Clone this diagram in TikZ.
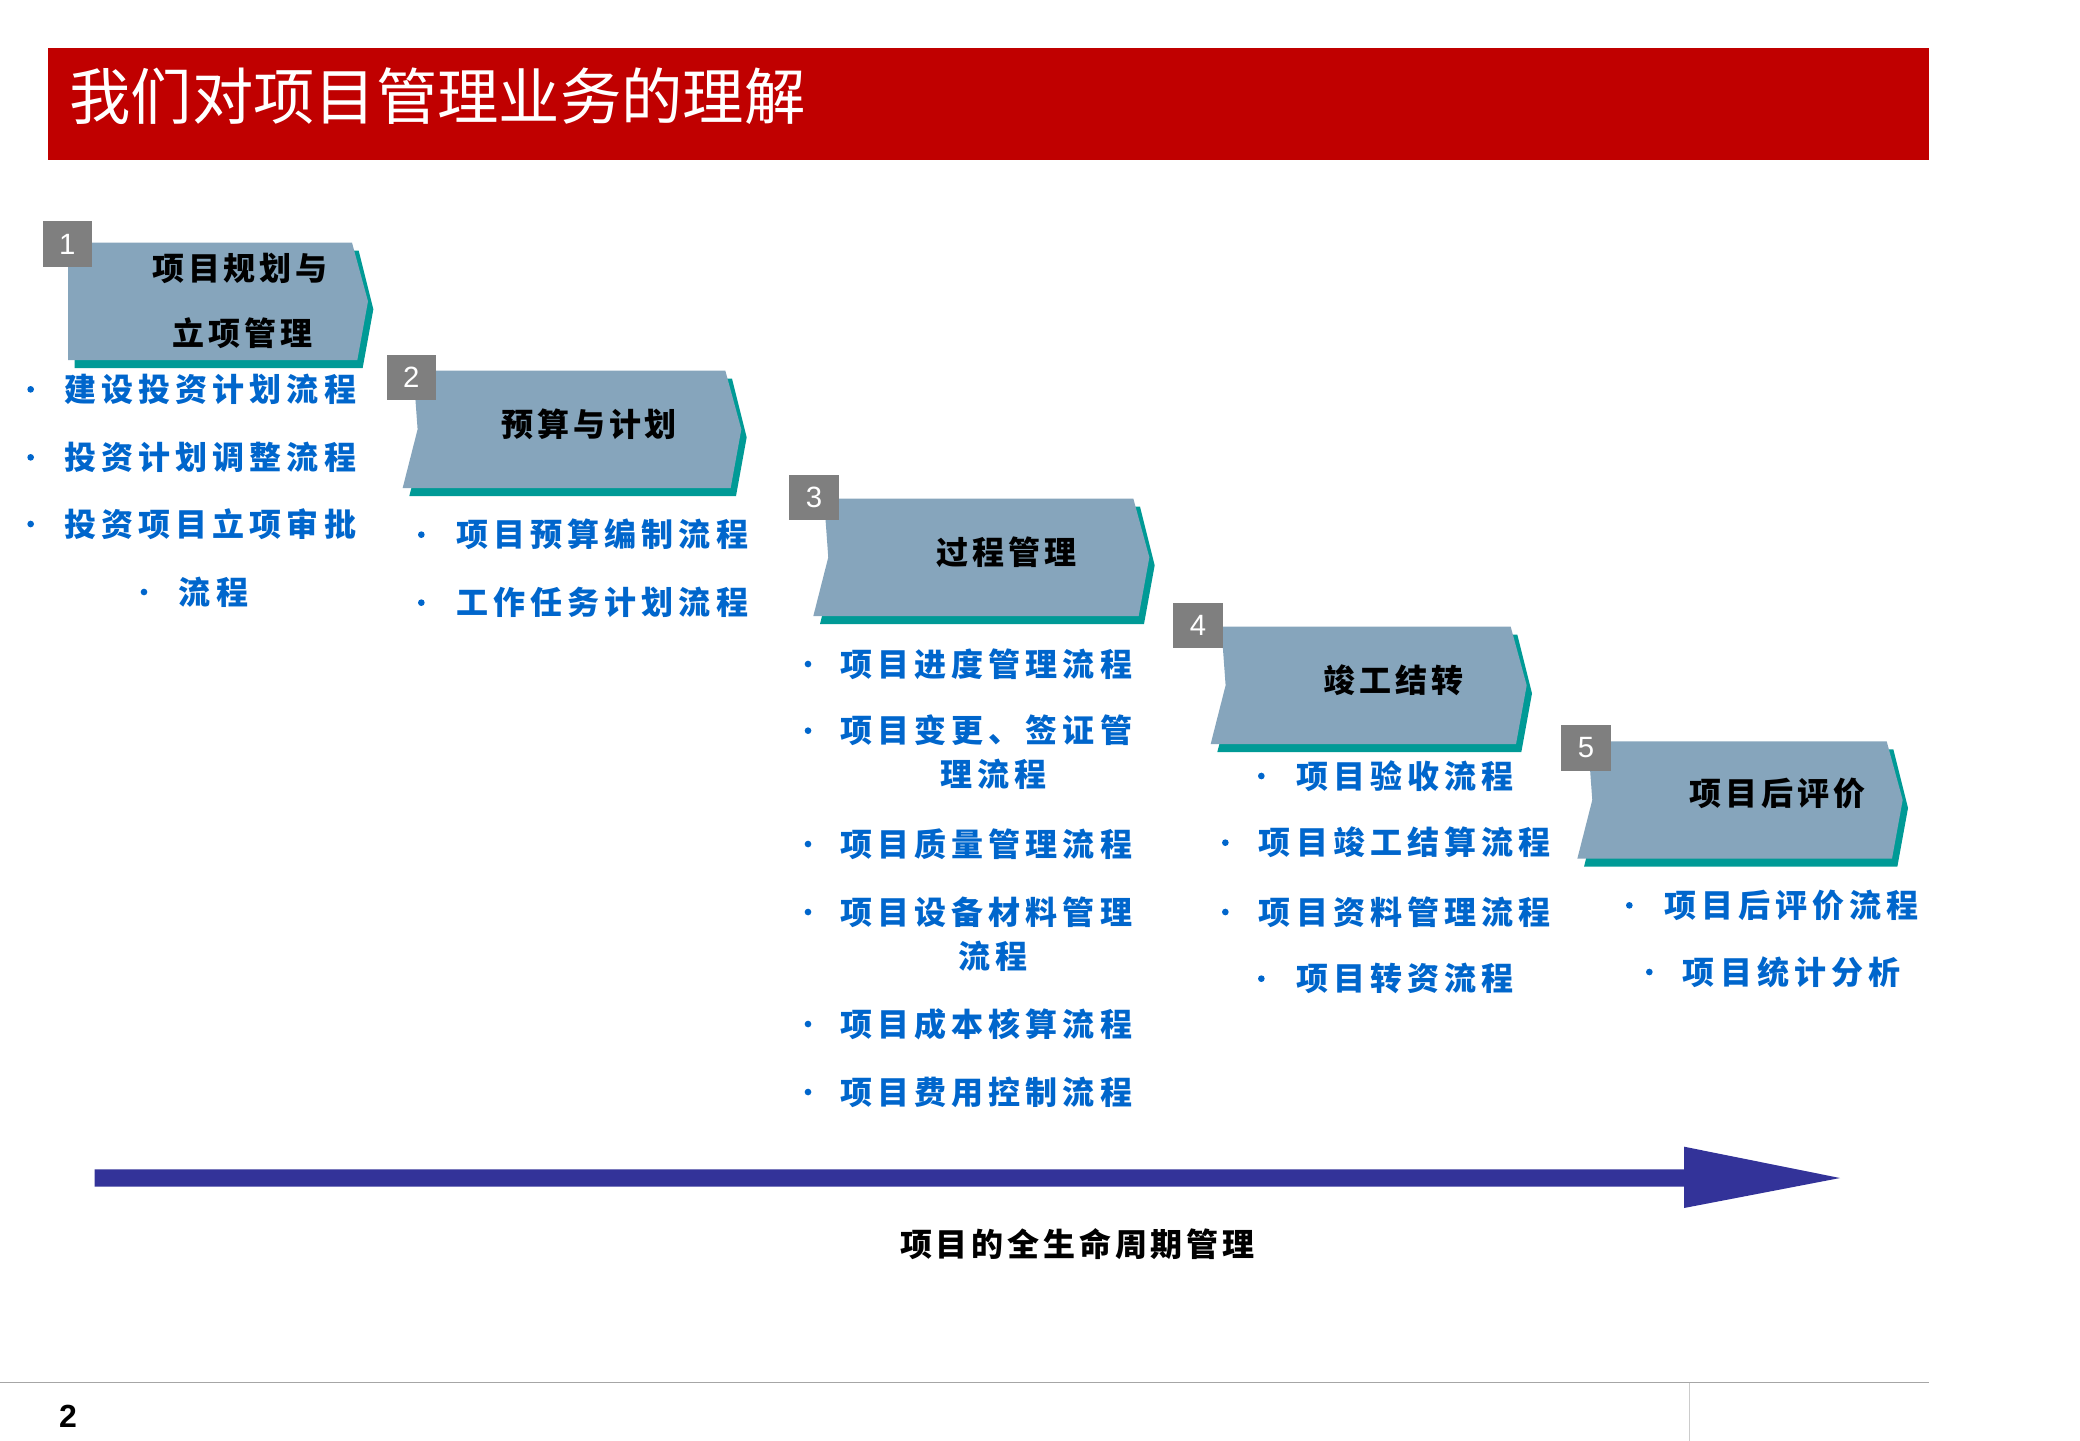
\documentclass[tikz,border=0pt]{standalone}
\usepackage{fontspec}
\setmainfont{Noto Sans CJK SC}
\setsansfont{Liberation Sans}
\definecolor{tred}{HTML}{C00000}
\definecolor{shp}{HTML}{86A5BC}
\definecolor{shd}{HTML}{009A96}
\definecolor{nbx}{HTML}{7F7F7F}
\definecolor{btx}{HTML}{0066CC}
\definecolor{arr}{HTML}{333399}
\newcommand\stepshape[5]{%
 \fill[shd] ({#1+#5+5},{#2+6}) -- ({#3-7},{#2+6}) -- ({#3+4},{(#2+#4)/2+6}) -- ({#3-4},{#4+6}) -- ({#1+5},{#4+6}) -- ({#1+#5*1.4+5},{(#2+#4)/2+6}) -- cycle;
 \fill[shp] ({#1+#5},{#2}) -- ({#3-12},{#2}) -- ({#3},{(#2+#4)/2}) -- ({#3-8},{#4}) -- ({#1},{#4}) -- ({#1+#5*1.4},{(#2+#4)/2}) -- cycle;}
\begin{document}
\begin{tikzpicture}[x=1pt,y=-1pt,
 lbl/.style={font=\fontsize{24}{26}\selectfont\bfseries\addfontfeature{LetterSpace=12},text=black,inner sep=0},
 itm/.style={font=\fontsize{24}{26}\selectfont\bfseries\addfontfeature{LetterSpace=16},text=btx,inner sep=0,anchor=west},
 dot/.style={circle,fill=btx,inner sep=0,minimum size=5pt},
 num/.style={fill=nbx,text=white,minimum width=37pt,minimum height=34pt,inner sep=0,font=\sffamily\fontsize{22}{24}\selectfont}]
\useasboundingbox (0,0) rectangle (1560,1080);
\fill[white] (0,0) rectangle (1560,1080);
\fill[tred] (36,36) rectangle (1447,120);
\node[anchor=west,text=white,inner sep=0,font=\fontsize{46}{48}\selectfont] (title) at (52,72) {我们对项目管理业务的理解};
% steps
\stepshape{51}{182}{276}{270}{0}
\stepshape{302}{278}{556}{366}{8}
\stepshape{610}{374}{862}{462}{8}
\stepshape{908}{470}{1145}{558}{8}
\stepshape{1183}{556}{1427}{644}{8}
\node[num] (n1) at (50.5,183) {1};
\node[num] (n2) at (308.5,283) {2};
\node[num] (n3) at (610.5,373) {3};
\node[num] (n4) at (898.5,469) {4};
\node[num] (n5) at (1189.5,561) {5};
\node[lbl] (s1a) at (180,201) {项目规划与};
\node[lbl] (s1b) at (182,250) {立项管理};
\node[lbl] (s2) at (442,318) {预算与计划};
\node[lbl] (s3) at (755,414) {过程管理};
\node[lbl] (s4) at (1045,510) {竣工结转};
\node[lbl] (s5) at (1333,595) {项目后评价};
% items
\newcommand\itemat[4]{\node[dot] at (#1,#3) {}; \node[itm] at (#2,#3) {#4};}
\itemat{23}{48}{292}{建设投资计划流程}
\itemat{23}{48}{343}{投资计划调整流程}
\itemat{23}{48}{393}{投资项目立项审批}
\itemat{108}{134}{444}{流程}
\itemat{316}{342}{401}{项目预算编制流程}
\itemat{316}{342}{452}{工作任务计划流程}
\itemat{606}{630}{498}{项目进度管理流程}
\itemat{606}{630}{548}{项目变更、签证管}
\node[itm,anchor=center] at (745,581) {理流程};
\itemat{606}{630}{633}{项目质量管理流程}
\itemat{606}{630}{684}{项目设备材料管理}
\node[itm,anchor=center] at (745,717) {流程};
\itemat{606}{630}{768}{项目成本核算流程}
\itemat{606}{630}{819}{项目费用控制流程}
\itemat{946}{972}{582}{项目验收流程}
\itemat{919}{944}{632}{项目竣工结算流程}
\itemat{919}{944}{684}{项目资料管理流程}
\itemat{946}{972}{734}{项目转资流程}
\itemat{1222}{1248}{679}{项目后评价流程}
\itemat{1237}{1262}{729}{项目统计分析}
% big arrow
\fill[arr] (71,877) -- (1263,877) -- (1263,860) -- (1380,883.5) -- (1263,906) -- (1263,890) -- (71,890) -- cycle;
\node[lbl] (life) at (808,933) {项目的全生命周期管理};
% footer
\draw[gray!70,line width=1pt] (0,1037) -- (1447,1037);
\draw[gray!40,line width=1pt] (1267,1037) -- (1267,1085);
\node[inner sep=0,font=\sffamily\bfseries\fontsize{24}{26}\selectfont] (pg) at (51,1062) {2};
\end{tikzpicture}
\end{document}
